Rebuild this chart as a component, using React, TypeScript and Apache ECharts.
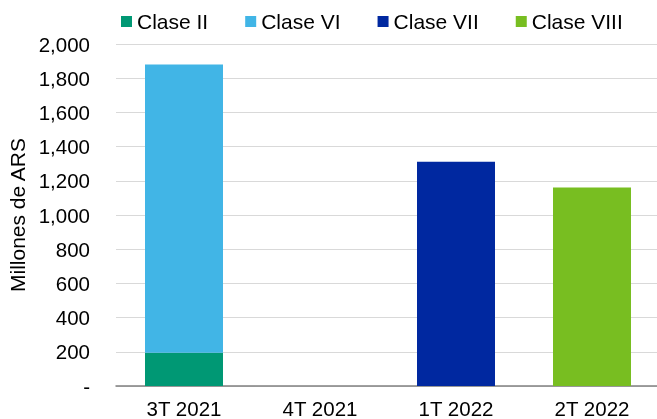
import React, { useEffect, useRef } from "react";
import * as echarts from "echarts";

const categories = ["3T 2021", "4T 2021", "1T 2022", "2T 2022"];
const claseII = [195, null, null, null];
const claseVI = [1685, null, null, null];
const claseVII = [null, null, 1312, null];
const claseVIII = [null, null, null, 1161];
const yTicks = [0, 200, 400, 600, 800, 1000, 1200, 1400, 1600, 1800, 2000];

const FONT = "'Liberation Sans', Arial, sans-serif";

export default function App() {
  const ref = useRef<HTMLDivElement>(null);
  useEffect(() => {
    const chart = echarts.init(ref.current!, null, { renderer: "svg" });
    const mk = (name: string, data: (number | null)[], color: string) => ({
      name,
      type: "bar",
      stack: "total",
      data,
      barWidth: 78,
      itemStyle: { color },
    });
    chart.setOption({
      animation: false,
      textStyle: { fontFamily: FONT },
      legend: {
        top: 6,
        left: 116,
        itemWidth: 11,
        itemHeight: 11,
        itemGap: 37,
        icon: "rect",
        textStyle: { fontSize: 21, color: "#000", fontFamily: FONT },
        data: ["Clase II", "Clase VI", "Clase VII", "Clase VIII"],
      },
      grid: {
        left: 116,
        top: 44,
        width: 544,
        height: 342,
        containLabel: false,
        outerBoundsMode: "none",
      },
      xAxis: {
        type: "category",
        data: categories,
        axisLine: { lineStyle: { color: "#808080", width: 1.5 } },
        axisTick: { show: false },
        axisLabel: { fontSize: 20.5, color: "#000", margin: 12, fontFamily: FONT },
      },
      yAxis: {
        type: "value",
        min: yTicks[0],
        max: yTicks[yTicks.length - 1],
        interval: 200,
        name: "Millones de ARS",
        nameLocation: "middle",
        nameGap: 87,
        nameTextStyle: { fontSize: 21, color: "#000", fontFamily: FONT },
        axisLabel: {
          fontSize: 20.5,
          color: "#000",
          margin: 26,
          fontFamily: FONT,
          formatter: (v: number) => (v === 0 ? "-" : v.toLocaleString("en-US")),
        },
        splitLine: { lineStyle: { color: "#d9d9d9", width: 1.2 } },
      },
      series: [
        mk("Clase II", claseII, "#009874"),
        mk("Clase VI", claseVI, "#41B5E6"),
        mk("Clase VII", claseVII, "#0028A0"),
        mk("Clase VIII", claseVIII, "#78BE21"),
      ],
    });
    return () => chart.dispose();
  }, []);
  return (
    <div
      ref={ref}
      style={{ position: "fixed", left: 0, top: 0, width: 657, height: 419 }}
    />
  );
}
